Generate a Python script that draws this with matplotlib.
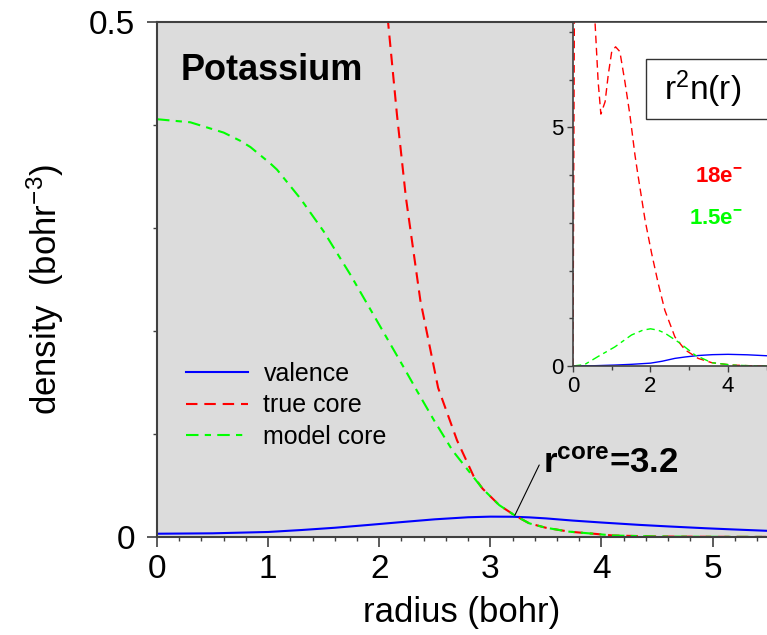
import matplotlib
matplotlib.use('Agg')
import matplotlib.pyplot as plt
from matplotlib.patches import Rectangle
from matplotlib.ticker import MultipleLocator

plt.rcParams['font.family'] = ['Liberation Sans', 'DejaVu Sans']
plt.rcParams['mathtext.fontset'] = 'custom'
plt.rcParams['mathtext.rm'] = 'Liberation Sans'
plt.rcParams['mathtext.bf'] = 'Liberation Sans:bold'
plt.rcParams['mathtext.it'] = 'Liberation Sans:italic'

# densities n(r) in bohr^-3
r_val = [0, 0.5, 1.0, 1.3, 1.6, 1.9, 2.2, 2.5, 2.8, 3.0, 3.2, 3.35, 3.5, 3.74,
         4.0, 4.34, 4.6, 4.94, 5.2, 5.5]
n_val = [0.0032, 0.0036, 0.0049, 0.0068, 0.009, 0.0117, 0.0145, 0.0172, 0.0192, 0.0198,
         0.0197, 0.0191, 0.0181, 0.016, 0.0141, 0.0118, 0.0103, 0.0085, 0.0073, 0.006]

r_true = [1.95, 2.08, 2.16, 2.24, 2.37, 2.53, 2.70, 2.85, 2.93, 3.08, 3.22, 3.35, 3.5,
          3.71, 3.95, 4.1, 4.5, 5.0, 5.5]
n_true = [0.7, 0.5, 0.41, 0.33, 0.23, 0.145, 0.094, 0.059, 0.047, 0.031, 0.021, 0.0133,
          0.009, 0.0052, 0.003, 0.0015, 0.0005, 0.0002, 0.0001]

r_model = [0, 0.3, 0.6, 0.75, 0.84, 1.02, 1.08, 1.2, 1.29, 1.5, 1.74, 1.98, 2.22, 2.34,
           2.49, 2.66, 2.85, 2.93, 3.08, 3.22, 3.35, 3.5, 3.71, 3.95, 4.1, 4.5, 5.0, 5.5]
n_model = [0.406, 0.403, 0.393, 0.385, 0.379, 0.363, 0.357, 0.341, 0.329, 0.297, 0.255,
           0.21, 0.165, 0.142, 0.114, 0.084, 0.058, 0.047, 0.031, 0.021, 0.0133, 0.009,
           0.0052, 0.003, 0.0015, 0.0005, 0.0002, 0.0001]

# r^2 n(r) for the inset
ri_val = [0, 0.5, 1.08, 1.5, 2.0, 2.3, 2.63, 2.9, 3.23, 3.6, 4.0, 4.5, 5.0]
yi_val = [0, 0.005, 0.02, 0.035, 0.06, 0.1, 0.16, 0.19, 0.22, 0.238, 0.245, 0.235, 0.215]

ri_true = [0, 0.02, 0.05, 0.3, 0.5, 0.57, 0.65, 0.72, 0.83, 0.91, 1.0, 1.1, 1.21, 1.34,
           1.47, 1.6, 1.67, 1.86, 2.03, 2.2, 2.37, 2.63, 2.89, 3.23, 3.58, 4.1, 4.6, 5.0]
yi_true = [0, 4.0, 10.0, 12.0, 9.0, 7.2, 5.96, 5.28, 5.54, 6.1, 6.59, 6.69, 6.59, 5.96,
           5.26, 4.42, 4.04, 3.06, 2.36, 1.73, 1.17, 0.61, 0.34, 0.16, 0.07, 0.02, 0.005, 0]

ri_model = [0, 0.3, 0.65, 1.08, 1.51, 1.8, 2.0, 2.2, 2.37, 2.76, 3.15, 3.58, 4.1, 4.6, 5.0]
yi_model = [0, 0.03, 0.2, 0.4, 0.65, 0.75, 0.78, 0.75, 0.69, 0.48, 0.23, 0.07, 0.02, 0.005, 0]

r_core = 3.22
n_cross = 0.021

bg = '#dcdcdc'
spine_col = '#404040'
red_dash = (0, (5.5, 3.3))
green_dashdot = (0, (6, 3, 3, 3))

fig = plt.figure(figsize=(7.67, 6.35), dpi=100)
ax = fig.add_axes([0.2047, 0.1543, 0.7953, 0.8103])
ax.set_facecolor(bg)

ax.plot(r_val, n_val, color='#0000ff', lw=1.5, label='valence')
ax.plot(r_true, n_true, color='#ff0000', lw=1.5, linestyle=red_dash, label='true core')
ax.plot(r_model, n_model, color='#00ff00', lw=1.5, linestyle=green_dashdot, label='model core')

ax.set_xlim(0, 5.49)
ax.set_ylim(0, 0.5)
ax.xaxis.set_major_locator(MultipleLocator(1))
ax.xaxis.set_minor_locator(MultipleLocator(0.2))
ax.set_yticks([0, 0.5], ['0', '0.5'])
ax.yaxis.set_minor_locator(MultipleLocator(0.1))
ax.tick_params(which='major', length=7, width=1.2, color=spine_col, labelsize=24)
ax.tick_params(which='minor', length=3, width=1.0, color=spine_col)
ax.tick_params(axis='x', pad=5)
ax.tick_params(axis='y', pad=9)
for side in ['left', 'top', 'bottom']:
    ax.spines[side].set_color(spine_col)
    ax.spines[side].set_linewidth(1.5)
ax.spines['right'].set_visible(False)

ax.set_xlabel('radius (bohr)', fontsize=25, labelpad=8)
ax.set_ylabel('density  (bohr$^{-3}$)', fontsize=25)
ax.yaxis.set_label_coords(-0.149, 0.482)

ax.text(0.216, 0.4445, 'Potassium', fontsize=26, fontweight='bold', ha='left', va='baseline')

ax.annotate('', xy=(r_core, n_cross), xytext=(3.44, 0.070),
            arrowprops=dict(arrowstyle='-', color='black', lw=0.8, shrinkA=0, shrinkB=0))
ax.text(3.47, 0.062, r'$\mathbf{r^{core}}$=3.2', fontsize=25, fontweight='bold',
        ha='left', va='baseline')

ax.legend(loc='upper left', bbox_to_anchor=(0.031, 0.36), frameon=False, fontsize=18,
          handlelength=2.5, handletextpad=0.6, labelspacing=0.3, borderaxespad=0)

# inset: r^2 n(r)
axi = fig.add_axes([0.747, 0.4236, 0.253, 0.541])
axi.set_facecolor('white')
axi.plot(ri_val, yi_val, color='#0000ff', lw=1.0)
axi.plot(ri_true, yi_true, color='#ff0000', lw=1.0, linestyle=red_dash)
axi.plot(ri_model, yi_model, color='#00ff00', lw=1.0, linestyle=green_dashdot)
axi.set_xlim(0, 5.006)
axi.set_ylim(0, 7.2)
axi.xaxis.set_major_locator(MultipleLocator(2))
axi.xaxis.set_minor_locator(MultipleLocator(1))
axi.yaxis.set_major_locator(MultipleLocator(5))
axi.yaxis.set_minor_locator(MultipleLocator(1))
axi.tick_params(which='major', length=4, width=1.0, color=spine_col, labelsize=16, pad=3)
axi.tick_params(which='minor', length=3, width=1.0, color=spine_col)
for side in ['left', 'top', 'bottom']:
    axi.spines[side].set_color(spine_col)
    axi.spines[side].set_linewidth(1.2)
axi.spines['right'].set_visible(False)

# label box runs off the right edge
axi.add_patch(Rectangle((1.88, 5.18), 4.0, 1.26, fc='white', ec='#333333', lw=1.0,
                        clip_on=False, zorder=3))
axi.text(2.35, 5.81, r'r$^2$n(r)', fontsize=24, ha='left', va='center', zorder=4)
axi.text(3.15, 3.97, r'18e$^{\mathbf{-}}$', fontsize=16, fontweight='bold', color='#ff0000',
         ha='left', va='center')
axi.text(3.0, 3.1, r'1.5e$^{\mathbf{-}}$', fontsize=16, fontweight='bold', color='#00ff00',
         ha='left', va='center')

fig.savefig('out.png', dpi=100)
